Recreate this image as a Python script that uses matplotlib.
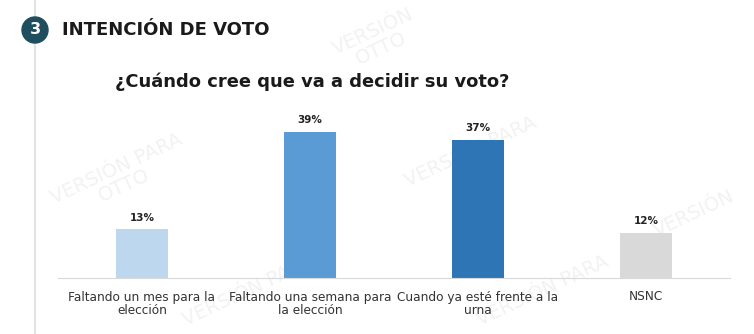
import matplotlib.pyplot as plt
from matplotlib.patches import Circle
from matplotlib.lines import Line2D

categorias = ["Faltando un mes para la\nelección",
              "Faltando una semana para\nla elección",
              "Cuando ya esté frente a la\nurna",
              "NSNC"]
porcentajes = [13, 39, 37, 12]
colores = ["#BDD7EE", "#5B9BD5", "#2E75B6", "#D9D9D9"]

plt.rcParams['font.family'] = ['DejaVu Sans']

fig = plt.figure(figsize=(7.54, 3.34), dpi=100)
fig.patch.set_facecolor("white")

# marca de agua
marcas = [(0.16, 0.47, "VERSIÓN PARA\nOTTO"), (0.50, 0.88, "VERSIÓN\nOTTO"),
          (0.63, 0.52, "VERSIÓN PARA\nOTTO"), (0.92, 0.36, "VERSIÓN"),
          (0.33, 0.13, "VERSIÓN PARA"), (0.72, 0.13, "VERSIÓN PARA")]
for mx, my, mt in marcas:
    fig.text(mx, my, mt, rotation=25, fontsize=14, color="#F2F2F2",
             ha="center", va="center", linespacing=1.0, zorder=0)

# línea lateral y número de sección
fig.add_artist(Line2D([35 / 754, 35 / 754], [0, 1], color="#E3E3E3", lw=1.5,
                      transform=fig.transFigure, zorder=1))
fig.add_artist(Circle((0.35, 3.34 - 0.30), 0.13,
                      transform=fig.dpi_scale_trans, color="#1F4E5F",
                      zorder=3))
fig.text(35 / 754, 1 - 30 / 334, "3", color="white", fontsize=11.5,
         fontweight="bold", ha="center", va="center", zorder=4)
fig.text(62 / 754, 1 - 30 / 334, "INTENCIÓN DE VOTO", fontsize=13,
         fontweight="bold", color="#1A1A1A", ha="left", va="center", zorder=4)
fig.text(115 / 754, 1 - 82 / 334, "¿Cuándo cree que va a decidir su voto?",
         fontsize=12.9, fontweight="bold", color="#1A1A1A",
         ha="left", va="center", zorder=4)

ax = fig.add_axes([58 / 754, 56 / 334, 672 / 754, 187 / 334])
ax.set_zorder(2)
ax.set_facecolor("none")
x = range(len(categorias))
barras = ax.bar(x, porcentajes, width=0.31, color=colores, zorder=2)
for xi, v in zip(x, porcentajes):
    ax.text(xi, v + 1.8, f"{v}%", ha="center", va="bottom", fontsize=7.5,
            fontweight="bold", color="#222222")

ax.set_xlim(-0.5, 3.5)
ax.set_ylim(0, 50)
ax.set_xticks(list(x))
ax.set_xticklabels(categorias, fontsize=8.7, color="#333333", linespacing=1.05)
ax.tick_params(axis="x", length=0, pad=9)
ax.set_yticks([])
for s in ["top", "right", "left"]:
    ax.spines[s].set_visible(False)
ax.spines["bottom"].set_color("#D9D9D9")

fig.savefig("out.png", dpi=100)
